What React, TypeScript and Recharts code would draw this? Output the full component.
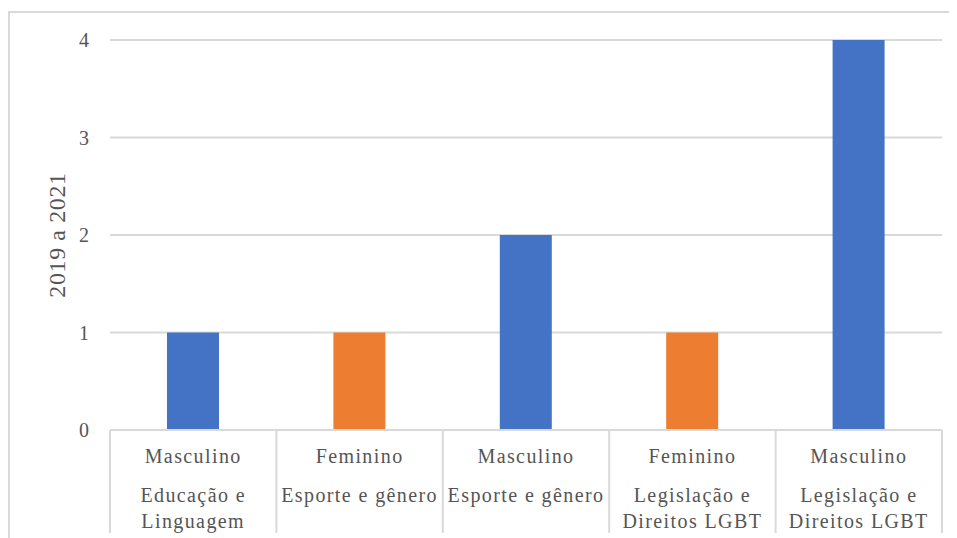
import { BarChart, Bar, Cell, XAxis, YAxis, CartesianGrid, Label } from 'recharts';

const genders = ['Masculino', 'Feminino', 'Masculino', 'Feminino', 'Masculino'];
const topics = [
  ['Educação e', 'Linguagem'],
  ['Esporte e gênero'],
  ['Esporte e gênero'],
  ['Legislação e', 'Direitos LGBT'],
  ['Legislação e', 'Direitos LGBT'],
];
const counts = [1, 1, 2, 1, 4];
const yTicks = [0, 1, 2, 3, 4];

const BLUE = '#4472C4';
const ORANGE = '#ED7D31';
const GRID = '#d9d9d9';
const TEXT = '#555555';
const FONT = 'Liberation Serif, DejaVu Serif, serif';

const data = counts.map((value, i) => ({
  key: `c${i}`,
  gender: genders[i],
  topic: topics[i],
  value,
}));

const textStyle = { fontFamily: FONT, fontSize: 20, letterSpacing: 1.4 };

function CategoryTick(props: any) {
  const { x, y, payload, index } = props;
  const idx = payload.index ?? index;
  const row = data[idx];
  const half = payload.offset || 83;
  const last = idx === data.length - 1;
  return (
    <g>
      <line x1={x - half} y1={y} x2={x - half} y2={y + 103} stroke={GRID} strokeWidth={2} />
      {last && <line x1={x + half} y1={y} x2={x + half} y2={y + 103} stroke={GRID} strokeWidth={2} />}
      <text x={x} y={y + 33} textAnchor="middle" fill={TEXT} style={textStyle}>
        {row.gender}
      </text>
      {row.topic.map((line: string, i: number) => (
        <text key={line} x={x} y={y + 72 + i * 26} textAnchor="middle" fill={TEXT} style={textStyle}>
          {line}
        </text>
      ))}
    </g>
  );
}

function YTick(props: any) {
  const { x, y, payload } = props;
  return (
    <text x={x} y={y + 7} textAnchor="end" fill={TEXT} style={{ fontFamily: FONT, fontSize: 20 }}>
      {payload.value}
    </text>
  );
}

function AxisTitle({ viewBox }: any) {
  const cx = viewBox.x + 49;
  const cy = viewBox.y + viewBox.height / 2;
  return (
    <text
      x={cx}
      y={cy}
      transform={`rotate(-90 ${cx} ${cy})`}
      textAnchor="middle"
      dominantBaseline="central"
      fill={TEXT}
      style={{ fontFamily: FONT, fontSize: 24, letterSpacing: 0.6 }}
    >
      2019 a 2021
    </text>
  );
}

export default function App() {
  return (
    <div style={{ position: 'relative', width: 949, height: 530, fontFamily: FONT }}>
      <div
        style={{
          position: 'absolute',
          top: 3,
          left: 0,
          right: 0,
          bottom: 0,
          borderTop: `2px solid ${GRID}`,
          borderLeft: `2px solid ${GRID}`,
        }}
      />
      <BarChart
        width={949}
        height={530}
        data={data}
        margin={{ top: 32, right: 15, left: 0, bottom: 0 }}
        style={{ position: 'absolute', top: 0, left: 0 }}
      >
        <CartesianGrid vertical={false} stroke={GRID} strokeWidth={2} />
        <XAxis
          dataKey="key"
          height={108}
          tickLine={false}
          tickSize={0}
          tickMargin={0}
          axisLine={{ stroke: GRID, strokeWidth: 2 }}
          tick={<CategoryTick />}
          interval={0}
        />
        <YAxis
          width={102}
          domain={[0, 4]}
          ticks={yTicks}
          axisLine={false}
          tickLine={false}
          tickSize={0}
          tickMargin={21}
          tick={<YTick />}
        >
          <Label content={<AxisTitle />} />
        </YAxis>
        <Bar dataKey="value" barSize={52} isAnimationActive={false}>
          {data.map((d) => (
            <Cell key={d.key} fill={d.gender === 'Feminino' ? ORANGE : BLUE} />
          ))}
        </Bar>
      </BarChart>
    </div>
  );
}
